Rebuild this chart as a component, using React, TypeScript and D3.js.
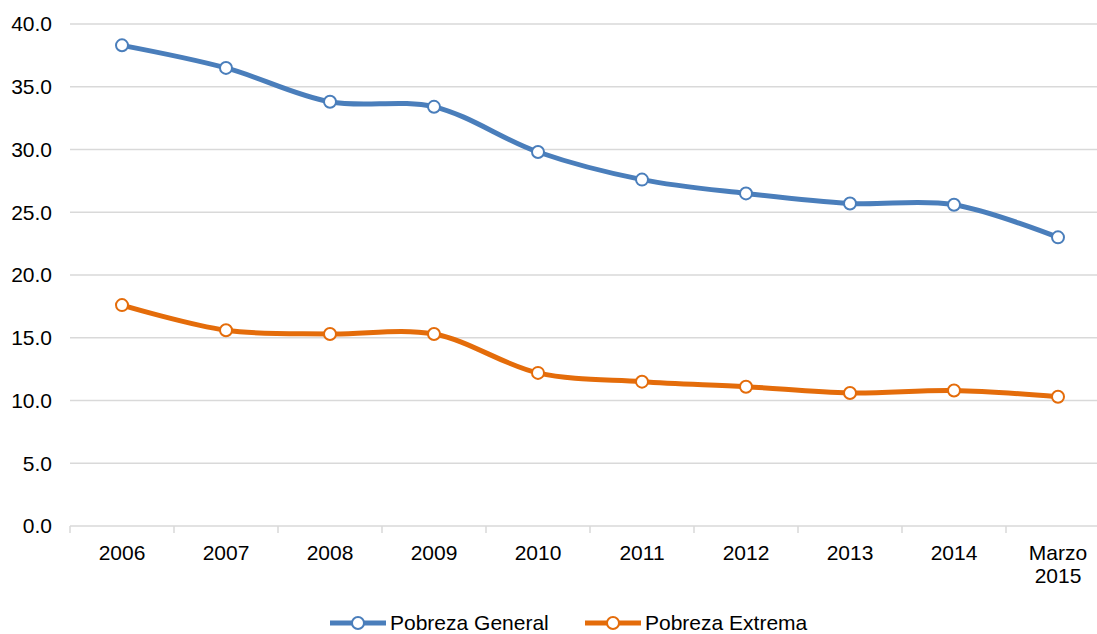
import * as d3 from "d3";
import React from "react";
import { useEffect, useRef } from "react";

const categories = ["2006", "2007", "2008", "2009", "2010", "2011", "2012", "2013", "2014", "Marzo|2015"];
const pobrezaGeneral = [38.3, 36.5, 33.8, 33.4, 29.8, 27.6, 26.5, 25.7, 25.6, 23.0];
const pobrezaExtrema = [17.6, 15.6, 15.3, 15.3, 12.2, 11.5, 11.1, 10.6, 10.8, 10.3];
const yTicks = [0, 5, 10, 15, 20, 25, 30, 35, 40];

const seriesList = [
    { name: "Pobreza General", values: pobrezaGeneral, color: "#4A7EBB" },
    { name: "Pobreza Extrema", values: pobrezaExtrema, color: "#E46C0A" },
];

function drawChart(node: SVGSVGElement) {
    const width = 1097;
    const height = 634;
    const margin = { top: 24, left: 70, bottom: 108 };
    const font = "'Liberation Sans', Arial, sans-serif";
    const fs = "21px";

    const svg = d3.select(node)
        .attr("width", width)
        .attr("height", height)
        .style("display", "block")
        .style("font-family", font);

    svg.selectAll("*").remove();

    const x = d3.scaleBand()
        .domain(categories)
        .range([margin.left, 1110])
        .padding(0);

    const y = d3.scaleLinear()
        .domain([0, 40])
        .range([height - margin.bottom, margin.top]);

    // gridlines
    svg.append("g")
        .selectAll("line")
        .data(yTicks)
        .enter().append("line")
        .attr("x1", margin.left)
        .attr("x2", width)
        .attr("y1", (d) => y(d))
        .attr("y2", (d) => y(d))
        .attr("stroke", "#d9d9d9")
        .attr("stroke-width", 1.5);

    // y labels
    svg.append("g")
        .selectAll("text")
        .data(yTicks)
        .enter().append("text")
        .attr("x", 52)
        .attr("y", (d) => y(d))
        .attr("dy", "0.35em")
        .attr("text-anchor", "end")
        .style("font-size", fs)
        .attr("fill", "#000")
        .text((d) => d.toFixed(1));

    // x tick marks at band edges
    const edges = categories.map((c) => x(c) as number);
    svg.append("g")
        .selectAll("line")
        .data(edges)
        .enter().append("line")
        .attr("x1", (d) => d)
        .attr("x2", (d) => d)
        .attr("y1", y(0))
        .attr("y2", y(0) + 7)
        .attr("stroke", "#d9d9d9")
        .attr("stroke-width", 1.5);

    // x labels
    const xl = svg.append("g")
        .selectAll("text")
        .data(categories)
        .enter().append("text")
        .attr("x", (d) => (x(d) as number) + x.bandwidth() / 2)
        .attr("y", y(0) + 34)
        .attr("text-anchor", "middle")
        .style("font-size", fs)
        .attr("fill", "#000");
    xl.each(function (d) {
        const parts = d.split("|");
        const t = d3.select(this);
        parts.forEach((p, i) => {
            t.append("tspan")
                .attr("x", (x(d) as number) + x.bandwidth() / 2)
                .attr("dy", i === 0 ? 0 : 23)
                .text(p);
        });
    });

    const line = d3.line<number>()
        .x((_, i) => (x(categories[i]) as number) + x.bandwidth() / 2)
        .y((d) => y(d))
        .curve(d3.curveCatmullRom.alpha(0.5));

    seriesList.forEach((s) => {
        svg.append("path")
            .datum(s.values)
            .attr("d", line)
            .attr("fill", "none")
            .attr("stroke", s.color)
            .attr("stroke-width", 5)
            .attr("stroke-linecap", "round");

        svg.append("g")
            .selectAll("circle")
            .data(s.values)
            .enter().append("circle")
            .attr("cx", (_, i) => (x(categories[i]) as number) + x.bandwidth() / 2)
            .attr("cy", (d) => y(d))
            .attr("r", 6)
            .attr("fill", "#fff")
            .attr("stroke", s.color)
            .attr("stroke-width", 2);
    });

    // legend
    const legendX = [330, 585];
    const ly = 623;
    seriesList.forEach((s, i) => {
        const g = svg.append("g").attr("transform", `translate(${legendX[i]},${ly})`);
        g.append("line")
            .attr("x1", 0).attr("x2", 56)
            .attr("y1", 0).attr("y2", 0)
            .attr("stroke", s.color)
            .attr("stroke-width", 5);
        g.append("circle")
            .attr("cx", 28).attr("cy", 0).attr("r", 6)
            .attr("fill", "#fff")
            .attr("stroke", s.color)
            .attr("stroke-width", 2);
        g.append("text")
            .attr("x", 60)
            .attr("y", 0)
            .attr("dy", "0.35em")
            .style("font-size", fs)
            .attr("fill", "#000")
            .text(s.name);
    });
}

export default function App() {
    const ref = useRef<SVGSVGElement>(null);
    useEffect(() => {
        if (ref.current) drawChart(ref.current);
    });
    return (
        <div style={{ position: "absolute", top: 0, left: 0, width: 1097, height: 634, overflow: "hidden", background: "#fff" }}>
            <svg ref={ref}></svg>
        </div>
    );
}
